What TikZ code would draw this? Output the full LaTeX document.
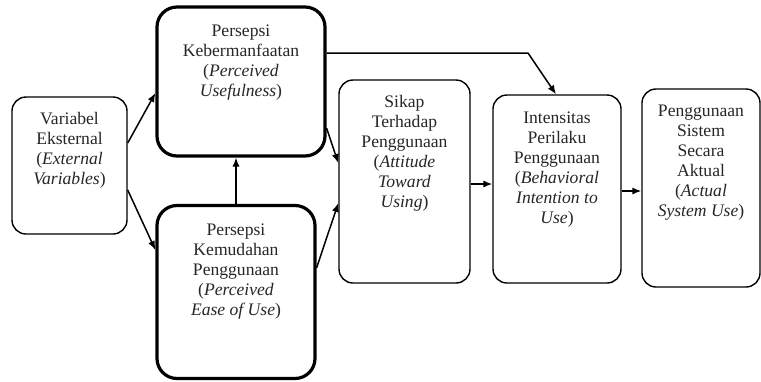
\documentclass[tikz,border=0pt]{standalone}
\usepackage{fontspec}
\setmainfont{Liberation Serif}
\usetikzlibrary{positioning}
\usetikzlibrary{arrows.meta}

\tikzset{
  box/.style={draw, rounded corners=7pt, line width=0.7pt, inner sep=0pt},
  boldbox/.style={box, rounded corners=10pt, line width=1.6pt},
  txt/.style={align=center, inner sep=0pt, anchor=north, text=black!85,
    font=\fontsize{8.8}{10}\selectfont},
  arr/.style={-{Latex[length=4.5pt,width=3.6pt]}, line width=0.75pt}
}

\begin{document}
\begin{tikzpicture}[x=0.5pt, y=-0.5pt]
  \useasboundingbox (0,0) rectangle (761,381);

  % boxes
  \node [box, minimum width=57.5pt, minimum height=68.5pt] (ve) at (69.5,165.5) {};
  \node [boldbox, minimum width=84pt, minimum height=74.5pt] (pu) at (241,81.5) {};
  \node [boldbox, minimum width=79pt, minimum height=86.5pt] (peou) at (236,292) {};
  \node [box, minimum width=65.5pt, minimum height=101.5pt] (sikap) at (404.5,181.5) {};
  \node [box, minimum width=64pt, minimum height=94pt] (bi) at (557,189) {};
  \node [box, minimum width=59pt, minimum height=99pt] (asu) at (701,188) {};

  % labels
  \node [txt, below=8pt of ve.north] (velabel)
    {Variabel\\Eksternal\\(\textit{External}\\\textit{Variables})};
  \node [txt, below=9.5pt of pu.north] (pulabel)
    {Persepsi\\Kebermanfaatan\\(\textit{Perceived}\\\textit{Usefulness})};
  \node [txt, below=10pt of peou.north] (peoulabel)
    {Persepsi\\Kemudahan\\Penggunaan\\(\textit{Perceived}\\\textit{Ease of Use})};
  \node [txt, below=8pt of sikap.north] (sikaplabel)
    {Sikap\\Terhadap\\Penggunaan\\(\textit{Attitude}\\\textit{Toward}\\\textit{Using})};
  \node [txt, below=8.5pt of bi.north] (bilabel)
    {Intensitas\\Perilaku\\Penggunaan\\(\textit{Behavioral}\\\textit{Intention to}\\\textit{Use})};
  \node [txt, below=8pt of asu.north] (asulabel)
    {Penggunaan\\Sistem\\Secara\\Aktual\\(\textit{Actual}\\\textit{System Use})};

  % arrows
  \draw [arr] ([yshift=11.25pt]ve.east) -- ([yshift=-5.75pt]pu.west);
  \draw [arr] ([yshift=-12.25pt]ve.east) -- ([yshift=21pt]peou.west);
  \draw [arr] (peou.north) -- (peou.north |- pu.south);
  \draw [arr] ([yshift=-23.25pt]pu.east) -- ([yshift=9.25pt]sikap.west);
  \draw [arr] ([yshift=12pt]peou.east) -- ([yshift=-10.75pt]sikap.west);

  % long one over the top:
  \coordinate (pubend) at (528,53);
  \draw [arr] ([yshift=14.25pt]pu.east) -- (pubend) -- ([xshift=-0.5pt]bi.north);

  \draw [arr] ([yshift=-1.25pt]sikap.east) -- ([yshift=-1.25pt]sikap.east -| bi.west);
  \draw [arr] ([yshift=-1pt]bi.east) -- ([yshift=-1pt]bi.east -| asu.west);
\end{tikzpicture}
\end{document}
